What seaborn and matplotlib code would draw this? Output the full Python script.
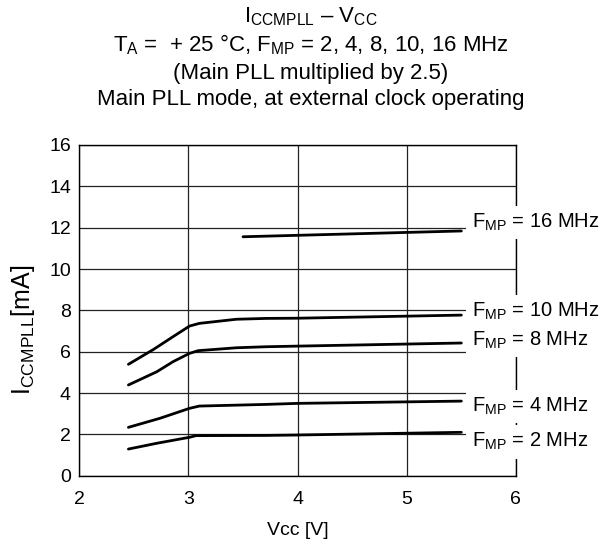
import matplotlib
matplotlib.use("Agg")
import matplotlib.pyplot as plt
import seaborn as sns

# Vcc [V] / Iccmpll [mA]
v_2mhz = [2.45, 2.71, 3.01, 3.07, 3.71, 4.0, 5.5]
i_2mhz = [1.29, 1.57, 1.86, 1.94, 1.95, 1.97, 2.10]

v_4mhz = [2.45, 2.74, 3.01, 3.10, 3.71, 4.0, 5.5]
i_4mhz = [2.34, 2.78, 3.26, 3.37, 3.45, 3.50, 3.61]

v_8mhz = [2.45, 2.71, 2.86, 3.01, 3.09, 3.44, 3.71, 4.0, 5.5]
i_8mhz = [4.39, 5.03, 5.52, 5.92, 6.05, 6.19, 6.24, 6.27, 6.42]

v_10mhz = [2.45, 2.68, 2.86, 3.01, 3.10, 3.44, 3.71, 4.0, 5.5]
i_10mhz = [5.39, 6.11, 6.73, 7.24, 7.37, 7.57, 7.61, 7.62, 7.77]

v_16mhz = [3.5, 5.5]
i_16mhz = [11.56, 11.84]

series = [
    (v_2mhz, i_2mhz), (v_4mhz, i_4mhz), (v_8mhz, i_8mhz),
    (v_10mhz, i_10mhz), (v_16mhz, i_16mhz),
]
label_texts = ['2 MHz', '4 MHz', '8 MHz', '10 MHz', '16 MHz']
label_y = [1.64, 3.34, 6.56, 7.93, 12.24]
label_x = 5.6

sns.set_style("white")
plt.rcParams['font.family'] = ['Liberation Sans', 'DejaVu Sans']
plt.rcParams['mathtext.fontset'] = 'custom'
plt.rcParams['mathtext.rm'] = 'Liberation Sans'
plt.rcParams['mathtext.it'] = 'Liberation Sans:italic'
plt.rcParams['mathtext.bf'] = 'Liberation Sans:bold'
for key in ['text.color', 'axes.labelcolor', 'xtick.color', 'ytick.color']:
    plt.rcParams[key] = 'black'

fig = plt.figure(figsize=(6.02, 5.44), dpi=100)
ax = fig.add_axes([0.1317, 0.1255, 0.857 - 0.1317, 0.7335 - 0.1255])

for v, i in series:
    sns.lineplot(x=v, y=i, ax=ax, color='black', linewidth=2.0,
                 sort=False, estimator=None, zorder=4)

ax.set_xlim(2, 6)
ax.set_ylim(0, 16)
ax.set_xticks([2, 3, 4, 5, 6])
ax.set_yticks(range(0, 17, 2))
ax.grid(True, color='#222222', linewidth=0.9)
ax.set_axisbelow(True)
for s in ax.spines.values():
    s.set_color('black')
    s.set_linewidth(1.0)
ax.tick_params(axis='both', length=0, labelsize=14)
ax.tick_params(axis='x', pad=11)
ax.tick_params(axis='y', pad=6)

ax.set_xlabel('Vcc [V]', fontsize=14, labelpad=10)
ax.set_ylabel(r'I$_{\mathrm{CCMPLL}}$[mA]', fontsize=18)
ax.yaxis.set_label_coords(-0.096, 0.44)

for txt, y in zip(label_texts, label_y):
    ax.text(label_x, y, r'F$_{\mathrm{MP}}$ = ' + txt, fontsize=14.5,
            ha='left', va='center', zorder=6, clip_on=False,
            bbox=dict(boxstyle='square,pad=0.3', fc='white', ec='none'))

title_lines = [
    r'I$_{\mathrm{CCMPLL}}$ – V$_{\mathrm{CC}}$',
    r'T$_{\mathrm{A}}$ =  + 25 °C, F$_{\mathrm{MP}}$ = 2, 4, 8, 10, 16 MHz',
    '(Main PLL multiplied by 2.5)',
    'Main PLL mode, at external clock operating',
]
title_y = [17, 45, 73, 100]
for line, ypx in zip(title_lines, title_y):
    fig.text(311 / 602, 1 - ypx / 544, line, fontsize=16,
             ha='center', va='center')

fig.savefig('out.png', dpi=100)
